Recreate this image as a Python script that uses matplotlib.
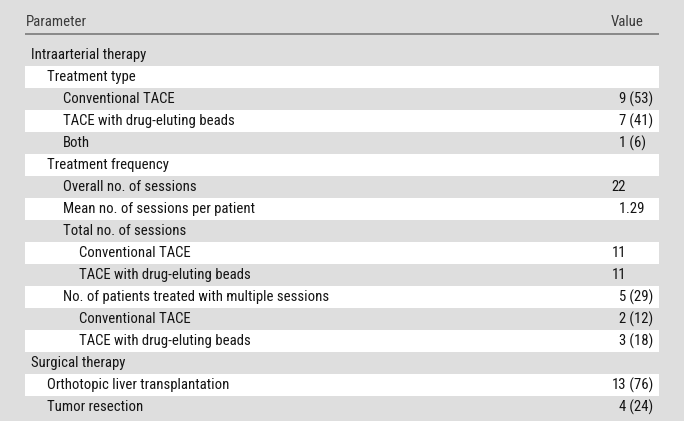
import matplotlib.pyplot as plt
from matplotlib.patches import Rectangle

# table content
labels = [
    "Intraarterial therapy",
    "Treatment type",
    "Conventional TACE",
    "TACE with drug-eluting beads",
    "Both",
    "Treatment frequency",
    "Overall no. of sessions",
    "Mean no. of sessions per patient",
    "Total no. of sessions",
    "Conventional TACE",
    "TACE with drug-eluting beads",
    "No. of patients treated with multiple sessions",
    "Conventional TACE",
    "TACE with drug-eluting beads",
    "Surgical therapy",
    "Orthotopic liver transplantation",
    "Tumor resection",
]
levels = [0, 1, 2, 2, 2, 1, 2, 2, 2, 3, 3, 2, 3, 3, 0, 1, 1]
values = ["", "", "9 (53)", "7 (41)", "1 (6)", "", "22", "1.29", "", "11", "11",
          "5 (29)", "2 (12)", "3 (18)", "", "13 (76)", "4 (24)"]
headers = ["Parameter", "Value"]

plt.rcParams['font.family'] = ['Roboto Condensed', 'DejaVu Sans']

W, H = 684, 421
bg = '#dedede'
fig = plt.figure(figsize=(W / 100, H / 100), dpi=100, facecolor=bg)
ax = fig.add_axes([0, 0, 1, 1])
ax.set_xlim(0, W)
ax.set_ylim(H, 0)
ax.axis('off')
ax.set_facecolor(bg)

left, right = 25, 659
top = 44
row_h = 22
indent = 16
val_x = 626
fs = 10.6
txt = '#141414'

# header
ax.text(left + 1, 21.5, headers[0], fontsize=fs, color='#3a3a3a', va='center', ha='left')
ax.text(611, 21.5, headers[1], fontsize=fs, color='#3a3a3a', va='center', ha='left')
ax.plot([left, right], [33.5, 33.5], color='#7a7a7a', lw=1.2, solid_capstyle='butt')

for i, (lab, lev, val) in enumerate(zip(labels, levels, values)):
    y0 = top + i * row_h
    if i % 2 == 1:
        ax.add_patch(Rectangle((left, y0), right - left, row_h, facecolor='white', edgecolor='none'))
    yc = y0 + row_h / 2
    ax.text(left + 6 + lev * indent, yc, lab, fontsize=fs, color=txt, va='center', ha='left')
    if val:
        # align on the end of the integer part
        if '.' in val:
            head, tail = val.split('.', 1)
            tail = '.' + tail
        elif ' ' in val:
            head, tail = val.split(' ', 1)
            tail = ' ' + tail
        else:
            head, tail = val, ''
        ax.text(val_x, yc, head, fontsize=fs, color=txt, va='center', ha='right')
        if tail:
            ax.text(val_x, yc, tail, fontsize=fs, color=txt, va='center', ha='left')

fig.savefig('out.png', dpi=100, facecolor=bg)
